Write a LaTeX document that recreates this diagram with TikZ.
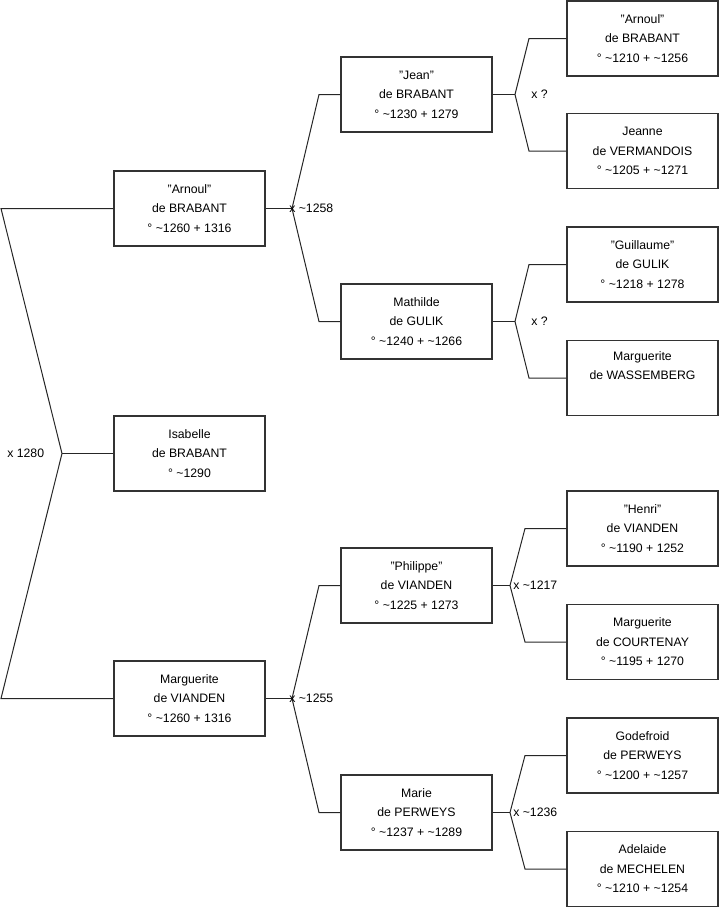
\documentclass[tikz,border=0pt]{standalone}
\usepackage{fontspec}
\setmainfont{Liberation Sans}
\newcommand{\qq}{\symbol{34}}
\begin{document}
\begin{tikzpicture}[x=0.75pt,y=-0.75pt,
  person/.style={draw=black!80,line width=1pt,rectangle,minimum width=113.25pt,minimum height=56.25pt,inner sep=0pt,align=center,font=\fontsize{9.2}{14.6}\selectfont},
  link/.style={draw=black!85,line width=0.75pt},
  mlabel/.style={anchor=west,inner sep=0pt,font=\fontsize{9.2}{11}\selectfont}]
\useasboundingbox (0,0) rectangle (719,908);
% column 1
\node[person] (arn1) at (189.5,208.5) {\qq Arnoul\qq\\de BRABANT\\° \char`\~1260 + 1316};
\node[person] (isa) at (189.5,453.5) {Isabelle\\de BRABANT\\° \char`\~1290};
\node[person] (marv) at (189.5,698.5) {Marguerite\\de VIANDEN\\° \char`\~1260 + 1316};
% column 2
\node[person] (jean) at (416.5,94.5) {\qq Jean\qq\\de BRABANT\\° \char`\~1230 + 1279};
\node[person] (mat) at (416.5,321.5) {Mathilde\\de GULIK\\° \char`\~1240 + \char`\~1266};
\node[person] (phi) at (416.5,585.5) {\qq Philippe\qq\\de VIANDEN\\° \char`\~1225 + 1273};
\node[person] (mar) at (416.5,812.5) {Marie\\de PERWEYS\\° \char`\~1237 + \char`\~1289};
% column 3
\node[person] (arn3) at (642.5,38.5) {\qq Arnoul\qq\\de BRABANT\\° \char`\~1210 + \char`\~1256};
\node[person] (jea) at (642.5,151) {Jeanne\\de VERMANDOIS\\° \char`\~1205 + \char`\~1271};
\node[person] (gui) at (642.5,264.5) {\qq Guillaume\qq\\de GULIK\\° \char`\~1218 + 1278};
\node[person] (was) at (642.5,378) {Marguerite\\de WASSEMBERG\\\strut};
\node[person] (hen) at (642.5,528.5) {\qq Henri\qq\\de VIANDEN\\° \char`\~1190 + 1252};
\node[person] (cou) at (642.5,642) {Marguerite\\de COURTENAY\\° \char`\~1195 + 1270};
\node[person] (god) at (642.5,755.5) {Godefroid\\de PERWEYS\\° \char`\~1200 + \char`\~1257};
\node[person] (ade) at (642.5,869) {Adelaide\\de MECHELEN\\° \char`\~1210 + \char`\~1254};
% fork points
\coordinate (f0) at (62,453.5);
\coordinate (f0a) at (1,208.5);
\coordinate (f0b) at (1,698.5);
\coordinate (f1) at (292,208.5);
\coordinate (f1a) at (319,94.5);
\coordinate (f1b) at (319,321.5);
\coordinate (f2) at (292,698.5);
\coordinate (f2a) at (319,585.5);
\coordinate (f2b) at (319,812.5);
\coordinate (f3) at (515,94.5);
\coordinate (f3a) at (529,38.5);
\coordinate (f3b) at (529,151);
\coordinate (f4) at (515,321.5);
\coordinate (f4a) at (529,264.5);
\coordinate (f4b) at (529,378);
\coordinate (f5) at (510,585.5);
\coordinate (f5a) at (525,528.5);
\coordinate (f5b) at (525,642);
\coordinate (f6) at (510,812.5);
\coordinate (f6a) at (525,755.5);
\coordinate (f6b) at (525,869);
% connectors
\draw[link] (arn1.west) -- (f0a) -- (f0) -- (f0b) -- (marv.west);
\draw[link] (f0) -- (isa.west);
\draw[link] (jean.west) -- (f1a) -- (f1) -- (f1b) -- (mat.west);
\draw[link] (arn1.east) -- (f1);
\draw[link] (phi.west) -- (f2a) -- (f2) -- (f2b) -- (mar.west);
\draw[link] (marv.east) -- (f2);
\draw[link] (arn3.west) -- (f3a) -- (f3) -- (f3b) -- (jea.west);
\draw[link] (jean.east) -- (f3);
\draw[link] (gui.west) -- (f4a) -- (f4) -- (f4b) -- (was.west);
\draw[link] (mat.east) -- (f4);
\draw[link] (hen.west) -- (f5a) -- (f5) -- (f5b) -- (cou.west);
\draw[link] (phi.east) -- (f5);
\draw[link] (god.west) -- (f6a) -- (f6) -- (f6b) -- (ade.west);
\draw[link] (mar.east) -- (f6);
% marriage labels
\node[mlabel] (m0) at (7,453.5) {x 1280};
\node[mlabel] (m1) at (289,208.5) {x \char`\~1258};
\node[mlabel] (m2) at (289,698.5) {x \char`\~1255};
\node[mlabel] (m3) at (531,94.5) {x ?};
\node[mlabel] (m4) at (531,321.5) {x ?};
\node[mlabel] (m5) at (513,585.5) {x \char`\~1217};
\node[mlabel] (m6) at (513,812.5) {x \char`\~1236};
\end{tikzpicture}
\end{document}
